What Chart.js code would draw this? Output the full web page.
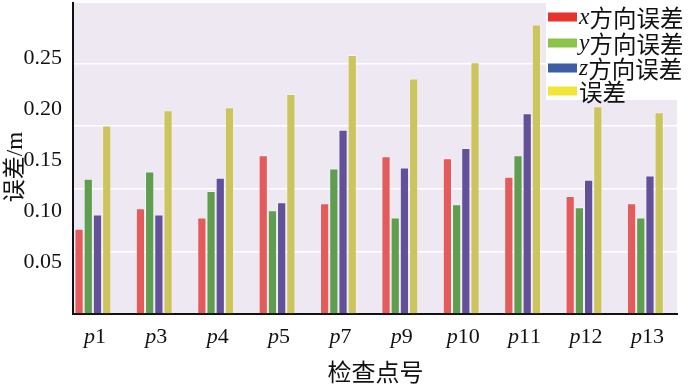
<!DOCTYPE html>
<html>
<head>
<meta charset="utf-8">
<script src="https://cdn.jsdelivr.net/npm/chart.js@4.4.0/dist/chart.umd.min.js"></script>
<style>
  html, body { margin: 0; padding: 0; background: #ffffff; }
  #wrap { position: relative; width: 700px; height: 388px; }
</style>
</head>
<body>
<div id="wrap"><canvas id="c" width="700" height="388"></canvas></div>
<script>
// ---- data ----
const categories = ['p1', 'p3', 'p4', 'p5', 'p7', 'p9', 'p10', 'p11', 'p12', 'p13'];
const seriesNames = ['x方向误差', 'y方向误差', 'z方向误差', '误差'];
const xError = [0.083, 0.103, 0.094, 0.155, 0.108, 0.154, 0.152, 0.134, 0.115, 0.108];
const yError = [0.132, 0.139, 0.120, 0.101, 0.142, 0.094, 0.107, 0.155, 0.104, 0.094];
const zError = [0.097, 0.097, 0.133, 0.109, 0.180, 0.143, 0.162, 0.196, 0.131, 0.135];
const totalError = [0.184, 0.199, 0.202, 0.215, 0.253, 0.230, 0.246, 0.283, 0.203, 0.197];
const yTickValues = [0.05, 0.10, 0.15, 0.20, 0.25];
const gridLevels = [0.0607, 0.1218, 0.1835, 0.2449];
const xAxisTitle = '检查点号';
const yAxisTitle = '误差/m';

const barColors = ['#e35b5b', '#5f9d4f', '#625199', '#ccc55e'];
const swatchColors = ['#e8322c', '#8cc34b', '#3b5ea4', '#f1e538'];

const seriesValues = [xError, yError, zError, totalError];
const datasets = seriesValues.map((vals, k) => ({
  label: seriesNames[k],
  data: vals.map((v, i) => ({ x: i, y: v })),
  backgroundColor: barColors[k],
  borderColor: 'rgba(255,255,255,0.35)',
  borderWidth: 1,
  barPercentage: 1.0,
  categoryPercentage: 0.6
}));

const SERIF = "'Liberation Serif', 'Noto Sans CJK SC', serif";
const CJK = "'Noto Sans CJK SC', 'Liberation Serif', sans-serif";

function drawMixed(ctx, text, x, y, size, align) {
  const parts = [];
  for (const ch of text) {
    const it = /[a-z]/.test(ch);
    const font = (it ? 'italic ' : '') + size + 'px ' + (/[\u3400-\u9fff]/.test(ch) ? CJK : SERIF);
    parts.push({ ch, font });
  }
  let total = 0;
  parts.forEach(p => { ctx.font = p.font; p.w = ctx.measureText(p.ch).width; total += p.w; });
  let cx = align === 'center' ? x - total / 2 : (align === 'right' ? x - total : x);
  ctx.textAlign = 'left';
  parts.forEach(p => { ctx.font = p.font; ctx.fillText(p.ch, cx, y); cx += p.w; });
}

const decor = {
  id: 'decor',
  beforeDraw(chart) {
    const { ctx, chartArea: a } = chart;
    ctx.save();
    ctx.fillStyle = '#ede8f2';
    ctx.fillRect(a.left, a.top, a.right - a.left, a.bottom - a.top);
    ctx.restore();
  },
  afterDraw(chart) {
    const { ctx, chartArea: a } = chart;
    const xs = chart.scales.x;
    ctx.save();
    ctx.fillStyle = '#111111';
    ctx.textBaseline = 'alphabetic';
    categories.forEach((c, i) => {
      drawMixed(ctx, c, xs.getPixelForValue(i) + 2, a.bottom + 29, 22, 'center');
    });
    ctx.textBaseline = 'middle';
    ctx.font = '24px ' + CJK;
    ctx.textAlign = 'center';
    ctx.fillText(xAxisTitle, (a.left + a.right) / 2 + 0.5, 372);
    ctx.save();
    ctx.translate(16, 167);
    ctx.rotate(-Math.PI / 2);
    ctx.font = '23px ' + SERIF;
    ctx.textAlign = 'center';
    ctx.fillText(yAxisTitle, 0, 0);
    ctx.restore();
    // legend
    ctx.fillStyle = '#ffffff';
    ctx.fillRect(546, 0, 154, 100);
    const rows = [17, 43, 68, 91];
    seriesNames.forEach((name, k) => {
      ctx.fillStyle = swatchColors[k];
      ctx.fillRect(548, rows[k] - 4.5, 29, 9);
      ctx.fillStyle = '#111111';
      ctx.textBaseline = 'middle';
      drawMixed(ctx, name, 579, rows[k] + 1, 23.5, 'left');
    });
    ctx.restore();
  }
};

new Chart(document.getElementById('c'), {
  type: 'bar',
  data: { datasets },
  plugins: [decor],
  options: {
    responsive: false,
    animation: false,
    events: [],
    layout: { padding: { top: 3, right: 23, left: 0, bottom: 0 } },
    plugins: { legend: { display: false }, tooltip: { enabled: false }, title: { display: false } },
    scales: {
      x: {
        type: 'linear',
        min: -0.324,
        max: 9.515,
        offset: false,
        grid: { display: false },
        border: { display: true, color: '#111111', width: 2 },
        ticks: { display: false },
        afterBuildTicks: s => { s.ticks = categories.map((_, i) => ({ value: i })); },
        afterFit: s => { s.height = 74.5; s.paddingLeft = 0; s.paddingRight = 0; }
      },
      y: {
        position: 'left',
        min: 0,
        max: 0.304,
        grid: { display: false },
        border: { display: true, color: '#111111', width: 2 },
        ticks: {
          color: '#111111',
          padding: 3,
          font: { family: 'Liberation Serif', size: 22 },
          callback: v => v.toFixed(2)
        },
        afterBuildTicks: s => { s.ticks = yTickValues.map(v => ({ value: v })); },
        afterFit: s => { s.width = 73; s.paddingTop = 0; s.paddingBottom = 0; }
      },
      grid2: {
        position: 'right',
        min: 0,
        max: 0.304,
        grid: { display: true, color: '#ffffff', lineWidth: 1.5, drawTicks: false },
        border: { display: false },
        ticks: { display: false },
        afterBuildTicks: s => { s.ticks = gridLevels.map(v => ({ value: v })); },
        afterFit: s => { s.width = 0; s.paddingTop = 0; s.paddingBottom = 0; }
      }
    }
  }
});
</script>
</body>
</html>
